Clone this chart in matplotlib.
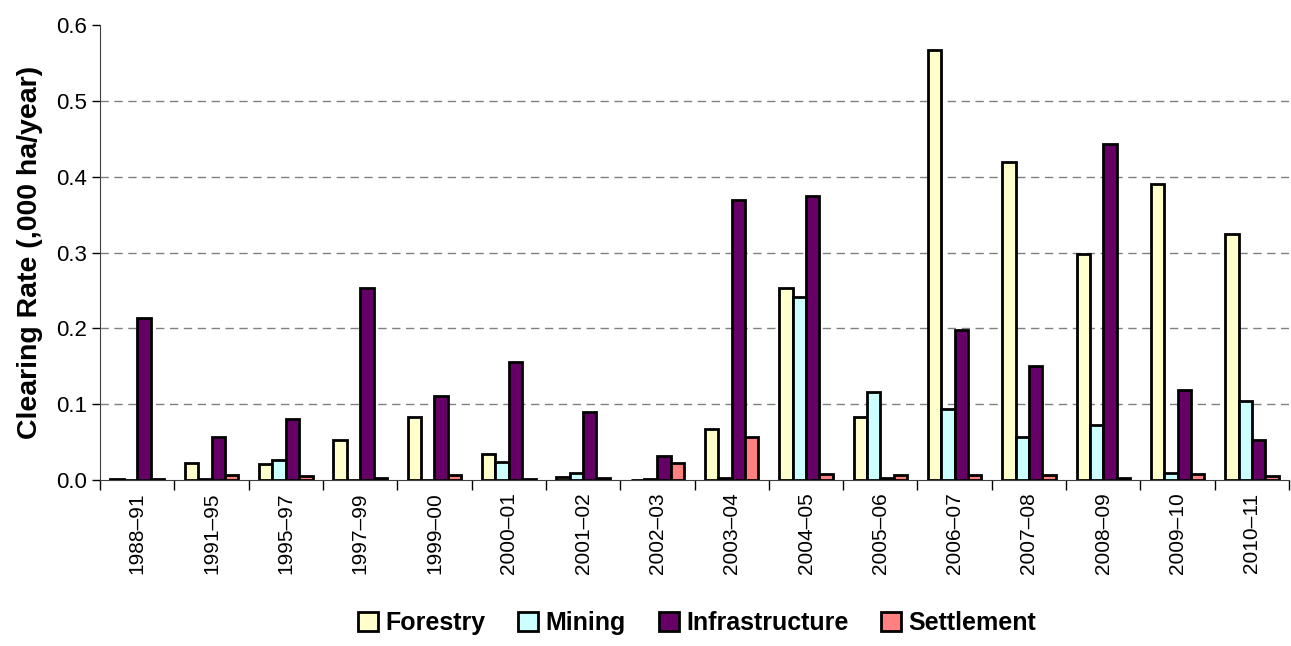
import numpy as np
import matplotlib.pyplot as plt
from matplotlib.ticker import FixedLocator, FormatStrFormatter

plt.rcParams['font.family'] = ['Liberation Sans', 'DejaVu Sans']

periods = ['1988–91', '1991–95', '1995–97', '1997–99', '1999–00', '2000–01',
           '2001–02', '2002–03', '2003–04', '2004–05', '2005–06', '2006–07',
           '2007–08', '2008–09', '2009–10', '2010–11']
forestry = [0.001, 0.023, 0.021, 0.053, 0.083, 0.034, 0.004, 0.0, 0.067,
            0.253, 0.083, 0.567, 0.419, 0.298, 0.390, 0.325]
mining = [0.0, 0.001, 0.026, 0.0, 0.0, 0.024, 0.009, 0.001, 0.003,
          0.241, 0.116, 0.094, 0.057, 0.072, 0.009, 0.104]
infrastructure = [0.214, 0.057, 0.081, 0.253, 0.111, 0.155, 0.090, 0.032, 0.370,
                  0.375, 0.002, 0.198, 0.150, 0.443, 0.119, 0.053]
settlement = [0.001, 0.006, 0.005, 0.002, 0.006, 0.001, 0.003, 0.022, 0.057,
              0.008, 0.006, 0.006, 0.006, 0.003, 0.008, 0.005]

series = [('Forestry', forestry, '#FFFFCC'),
          ('Mining', mining, '#CCFFFF'),
          ('Infrastructure', infrastructure, '#660066'),
          ('Settlement', settlement, '#FF8080')]

fig = plt.figure(figsize=(12.91, 6.46), dpi=100)
ax = fig.add_axes([0.0775, 0.257, 0.921, 0.704])

x = np.arange(len(periods))
w = 0.18
for i, (name, vals, col) in enumerate(series):
    ax.bar(x + (i - 1.5) * w, vals, w, color=col, edgecolor='black',
           linewidth=2, label=name, zorder=3)

ax.set_xlim(-0.5, len(periods) - 0.5)
ax.set_ylim(0, 0.6)
ax.set_yticks(np.arange(0, 0.61, 0.1))
ax.yaxis.set_major_formatter(FormatStrFormatter('%.1f'))
ax.tick_params(axis='y', labelsize=16, direction='out', length=6, width=1)

ax.set_xticks(x)
ax.set_xticklabels(periods, rotation=90, fontsize=15)
ax.tick_params(axis='x', which='major', length=0, pad=9)
ax.xaxis.set_minor_locator(FixedLocator(np.arange(-0.5, len(periods), 1.0)))
ax.tick_params(axis='x', which='minor', length=7, width=1, direction='out')

for yv in np.arange(0.1, 0.51, 0.1):
    ax.axhline(yv, color='#808080', linestyle=(0, (6, 4)), linewidth=1, zorder=1)

for s in ['top', 'right']:
    ax.spines[s].set_visible(False)
ax.spines['left'].set_color('#404040')
ax.spines['bottom'].set_color('#404040')

ax.set_ylabel('Clearing Rate (,000 ha/year)', fontsize=20.5, fontweight='bold',
              labelpad=9)

fig.legend(loc='lower center', bbox_to_anchor=(0.54, -0.018), ncol=4,
           frameon=False, handlelength=0.8, handleheight=0.8,
           handletextpad=0.3, columnspacing=1.3,
           prop={'size': 18, 'weight': 'bold'})

fig.savefig('out.png', dpi=100)
